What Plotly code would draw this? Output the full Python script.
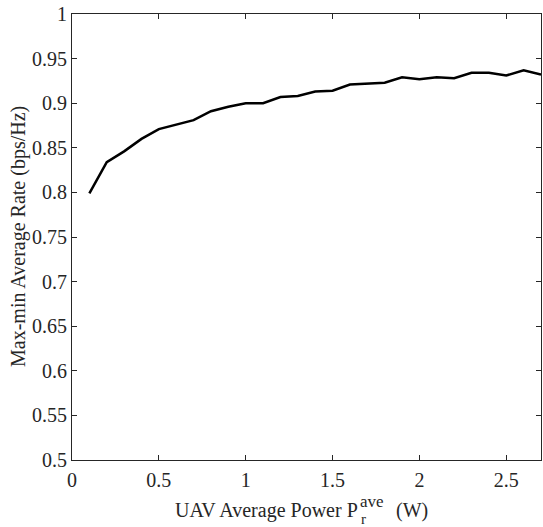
import plotly.graph_objects as go

power = [0.1, 0.2, 0.3, 0.4, 0.5, 0.6, 0.7, 0.8, 0.9, 1.0, 1.1, 1.2, 1.3, 1.4,
         1.5, 1.6, 1.7, 1.8, 1.9, 2.0, 2.1, 2.2, 2.3, 2.4, 2.5, 2.6, 2.7]
rate = [0.799, 0.834, 0.846, 0.860, 0.871, 0.876, 0.881, 0.891, 0.896, 0.900,
        0.900, 0.907, 0.908, 0.913, 0.914, 0.921, 0.922, 0.923, 0.929, 0.927,
        0.929, 0.928, 0.934, 0.934, 0.931, 0.937, 0.932]

x_ticks = [0, 0.5, 1, 1.5, 2, 2.5]
x_ticklabels = ["0", "0.5", "1", "1.5", "2", "2.5"]
y_ticks = [0.5, 0.55, 0.6, 0.65, 0.7, 0.75, 0.8, 0.85, 0.9, 0.95, 1.0]
y_ticklabels = ["0.5", "0.55", "0.6", "0.65", "0.7", "0.75", "0.8", "0.85", "0.9", "0.95", "1"]

FONT = "Liberation Serif"
AXC = "#262626"
TICK_SIZE = 20
TITLE_SIZE = 20

fig = go.Figure()
fig.add_trace(go.Scatter(x=power, y=rate, mode="lines",
                         line=dict(color="black", width=2.5), showlegend=False,
                         cliponaxis=False))

fig.update_layout(
    width=543, height=527,
    margin=dict(l=72, r=2, t=14, b=67, autoexpand=False),
    paper_bgcolor="white", plot_bgcolor="white",
    font=dict(family=FONT, size=TICK_SIZE, color=AXC),
    xaxis=dict(range=[0, 2.7], tickvals=x_ticks, ticktext=x_ticklabels,
               showline=True, linecolor=AXC, linewidth=1, mirror="ticks",
               ticks="inside", ticklen=5, tickcolor=AXC, showgrid=False,
               zeroline=False, automargin=False, ticklabelstandoff=2,
               tickfont=dict(family=FONT, size=TICK_SIZE, color=AXC)),
    yaxis=dict(range=[0.5, 1.0], tickvals=y_ticks, ticktext=y_ticklabels,
               showline=True, linecolor=AXC, linewidth=1, mirror="ticks",
               ticks="inside", ticklen=5, tickcolor=AXC, showgrid=False,
               zeroline=False, automargin=False, ticklabelstandoff=0,
               tickfont=dict(family=FONT, size=TICK_SIZE, color=AXC)),
)

# y-axis title
fig.add_annotation(text="Max-min Average Rate (bps/Hz)", xref="paper", yref="paper",
                   x=0, y=0.5, xshift=-54, textangle=-90, showarrow=False,
                   xanchor="center", yanchor="middle",
                   font=dict(family=FONT, size=TITLE_SIZE, color=AXC))
# x-axis title pieces (P with stacked super/subscript)
fig.add_annotation(text="UAV Average Power P", xref="paper", yref="paper",
                   x=0, y=0, xshift=288, yshift=-50, showarrow=False,
                   xanchor="right", yanchor="middle",
                   font=dict(family=FONT, size=TITLE_SIZE, color=AXC))
fig.add_annotation(text="ave", xref="paper", yref="paper",
                   x=0, y=0, xshift=286, yshift=-41, showarrow=False,
                   xanchor="left", yanchor="middle",
                   font=dict(family=FONT, size=17, color=AXC))
fig.add_annotation(text="r", xref="paper", yref="paper",
                   x=0, y=0, xshift=288, yshift=-59, showarrow=False,
                   xanchor="left", yanchor="middle", borderpad=0,
                   font=dict(family=FONT, size=15, color=AXC))
fig.add_annotation(text="(W)", xref="paper", yref="paper",
                   x=0, y=0, xshift=322, yshift=-50, showarrow=False,
                   xanchor="left", yanchor="middle",
                   font=dict(family=FONT, size=TITLE_SIZE, color=AXC))

fig.write_html("out.html", post_script="document.body.style.margin='0';",
               config={"displayModeBar": False})
